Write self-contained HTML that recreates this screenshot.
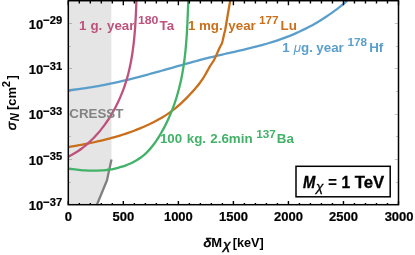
<!DOCTYPE html>
<html><head><meta charset="utf-8"><title>plot</title>
<style>html,body{margin:0;padding:0;background:#fff;}svg{display:block;}text{font-family:"Liberation Sans",sans-serif;font-weight:bold;}</style>
</head><body>
<svg width="415" height="255" viewBox="0 0 415 255" style="will-change:transform">
<rect x="0" y="0" width="415" height="255" fill="#fff"/>
<path d="M68.30,0.70 L111.3,0.70 L111.50,159.60 L108.20,174.50 L107.00,180.30 L96.90,204.70 L68.30,204.70 Z" fill="#e5e5e5"/>
<path d="M111.50,159.60 L108.20,174.50 L107.00,180.30 L96.90,204.70" fill="none" stroke="#808080" stroke-width="2.3" stroke-linejoin="round"/>
<path d="M68.78,90.30 C69.60,90.21 72.07,89.95 73.72,89.75 C75.36,89.56 77.00,89.35 78.64,89.14 C80.28,88.92 81.92,88.69 83.56,88.45 C85.20,88.21 86.84,87.96 88.47,87.70 C90.11,87.44 91.74,87.18 93.37,86.90 C95.00,86.62 96.64,86.33 98.27,86.03 C99.90,85.73 101.52,85.43 103.15,85.11 C104.78,84.79 106.41,84.47 108.03,84.14 C109.66,83.80 111.28,83.46 112.91,83.11 C114.53,82.76 116.15,82.41 117.78,82.04 C119.40,81.68 121.02,81.31 122.64,80.93 C124.26,80.55 125.88,80.16 127.50,79.77 C129.12,79.38 130.74,78.98 132.36,78.57 C133.97,78.17 135.59,77.76 137.21,77.34 C138.83,76.92 140.44,76.50 142.06,76.07 C143.68,75.65 145.29,75.21 146.91,74.78 C148.52,74.34 150.14,73.90 151.75,73.45 C153.37,73.01 154.98,72.56 156.60,72.11 C158.21,71.66 159.83,71.21 161.44,70.75 C163.06,70.30 164.67,69.84 166.29,69.39 C167.90,68.93 169.52,68.47 171.14,68.02 C172.75,67.56 174.37,67.10 175.98,66.64 C177.60,66.19 179.21,65.73 180.83,65.28 C182.45,64.82 184.06,64.37 185.68,63.92 C187.30,63.47 188.92,63.03 190.53,62.58 C192.15,62.14 193.77,61.70 195.39,61.26 C197.01,60.83 198.63,60.39 200.25,59.97 C201.87,59.54 203.49,59.12 205.12,58.70 C206.74,58.29 208.36,57.88 209.99,57.48 C211.61,57.07 213.24,56.68 214.86,56.29 C216.49,55.90 218.11,55.51 219.74,55.13 C221.37,54.75 222.99,54.38 224.62,54.00 C226.25,53.63 227.87,53.26 229.50,52.89 C231.12,52.51 232.75,52.15 234.37,51.77 C236.00,51.40 237.62,51.03 239.24,50.66 C240.86,50.28 242.48,49.90 244.10,49.52 C245.71,49.14 247.33,48.75 248.94,48.36 C250.55,47.97 252.16,47.57 253.77,47.17 C255.38,46.76 256.98,46.35 258.58,45.92 C260.19,45.50 261.78,45.07 263.38,44.62 C264.97,44.18 266.56,43.73 268.15,43.26 C269.73,42.79 271.31,42.31 272.89,41.82 C274.47,41.32 276.04,40.81 277.61,40.29 C279.17,39.76 280.74,39.22 282.29,38.66 C283.85,38.10 285.40,37.52 286.94,36.93 C288.49,36.33 290.03,35.72 291.56,35.09 C293.09,34.45 294.62,33.80 296.14,33.13 C297.65,32.46 299.17,31.78 300.67,31.07 C302.18,30.36 303.67,29.64 305.16,28.89 C306.65,28.15 308.13,27.39 309.61,26.60 C311.08,25.82 312.55,25.02 314.00,24.20 C315.46,23.38 316.91,22.54 318.35,21.68 C319.78,20.82 321.21,19.95 322.63,19.05 C324.05,18.15 325.46,17.23 326.87,16.30 C328.27,15.36 329.66,14.40 331.04,13.43 C332.42,12.45 333.79,11.46 335.15,10.44 C336.50,9.42 337.85,8.39 339.19,7.33 C340.53,6.28 341.85,5.20 343.16,4.10 C344.48,3.01 346.42,1.31 347.07,0.75" fill="none" stroke="#5a9fcb" stroke-width="2.3"/>
<path d="M230.20,0.70 L227.70,15.00 L225.20,30.00 L223.90,35.00 L222.70,40.50 L221.80,43.70 L221.80,43.70 C221.52,44.22 220.85,45.25 220.10,46.80 C219.35,48.35 218.27,50.88 217.30,53.00 C216.33,55.12 215.10,57.92 214.30,59.50 C213.50,61.08 213.13,61.52 212.50,62.50 C211.87,63.48 211.16,64.38 210.53,65.38 C209.90,66.38 209.32,67.44 208.73,68.48 C208.13,69.53 207.55,70.60 206.96,71.65 C206.38,72.70 205.79,73.75 205.19,74.78 C204.59,75.80 203.99,76.81 203.37,77.79 C202.74,78.78 202.11,79.75 201.45,80.71 C200.78,81.66 200.10,82.60 199.40,83.53 C198.70,84.46 197.97,85.38 197.22,86.28 C196.48,87.19 195.72,88.09 194.94,88.98 C194.16,89.87 193.37,90.75 192.57,91.63 C191.77,92.50 190.95,93.38 190.13,94.25 C189.31,95.12 188.48,95.98 187.64,96.84 C186.81,97.70 185.96,98.55 185.11,99.39 C184.26,100.24 183.41,101.07 182.54,101.89 C181.68,102.71 180.82,103.53 179.94,104.32 C179.06,105.12 178.18,105.91 177.28,106.67 C176.39,107.44 175.48,108.20 174.56,108.93 C173.64,109.67 172.70,110.39 171.75,111.09 C170.80,111.79 169.84,112.48 168.87,113.15 C167.90,113.82 166.91,114.48 165.92,115.12 C164.93,115.76 163.92,116.38 162.91,117.00 C161.89,117.61 160.87,118.21 159.84,118.79 C158.81,119.38 157.77,119.95 156.72,120.51 C155.68,121.07 154.62,121.62 153.56,122.16 C152.51,122.69 151.44,123.22 150.37,123.73 C149.30,124.25 148.23,124.75 147.15,125.25 C146.08,125.74 144.99,126.23 143.91,126.70 C142.82,127.18 141.73,127.64 140.64,128.10 C139.55,128.56 138.45,129.00 137.35,129.44 C136.25,129.88 135.15,130.31 134.04,130.73 C132.93,131.15 131.82,131.56 130.71,131.96 C129.59,132.36 128.48,132.75 127.36,133.14 C126.24,133.53 125.11,133.90 123.99,134.27 C122.86,134.64 121.73,135.00 120.60,135.35 C119.47,135.71 118.34,136.05 117.20,136.39 C116.07,136.73 114.93,137.06 113.79,137.38 C112.65,137.71 111.50,138.02 110.36,138.33 C109.21,138.64 108.07,138.95 106.92,139.24 C105.77,139.54 104.62,139.83 103.47,140.11 C102.32,140.40 101.16,140.67 100.01,140.94 C98.85,141.22 97.70,141.48 96.54,141.74 C95.38,142.00 94.22,142.25 93.06,142.50 C91.90,142.75 90.74,142.99 89.58,143.23 C88.42,143.47 87.25,143.70 86.09,143.93 C84.93,144.16 83.76,144.38 82.60,144.60 C81.44,144.82 80.27,145.03 79.11,145.24 C77.94,145.45 76.77,145.66 75.61,145.86 C74.44,146.06 73.28,146.26 72.11,146.45 C70.95,146.65 69.20,146.93 68.62,147.02" fill="none" stroke="#c96f1a" stroke-width="2.3" stroke-linejoin="round"/>
<path d="M188.27,0.78 C188.25,1.46 188.17,3.48 188.12,4.84 C188.07,6.20 188.02,7.56 187.97,8.92 C187.92,10.28 187.87,11.64 187.82,13.01 C187.76,14.37 187.71,15.74 187.65,17.11 C187.60,18.48 187.54,19.85 187.48,21.22 C187.41,22.59 187.35,23.97 187.28,25.34 C187.21,26.71 187.14,28.09 187.07,29.47 C186.99,30.84 186.91,32.22 186.83,33.60 C186.74,34.97 186.65,36.35 186.56,37.73 C186.46,39.11 186.36,40.48 186.26,41.86 C186.15,43.24 186.03,44.62 185.91,45.99 C185.79,47.37 185.67,48.75 185.53,50.12 C185.39,51.50 185.25,52.87 185.10,54.25 C184.95,55.62 184.79,56.99 184.62,58.36 C184.45,59.73 184.27,61.10 184.08,62.47 C183.89,63.84 183.70,65.20 183.49,66.57 C183.28,67.93 183.06,69.29 182.83,70.65 C182.60,72.01 182.36,73.37 182.10,74.72 C181.85,76.08 181.58,77.43 181.30,78.78 C181.02,80.12 180.73,81.47 180.43,82.81 C180.12,84.15 179.81,85.49 179.47,86.83 C179.14,88.16 178.80,89.49 178.44,90.82 C178.08,92.15 177.71,93.47 177.32,94.79 C176.93,96.11 176.53,97.43 176.12,98.74 C175.70,100.05 175.27,101.35 174.83,102.65 C174.38,103.95 173.92,105.25 173.45,106.54 C172.98,107.83 172.49,109.12 171.99,110.40 C171.49,111.68 170.97,112.95 170.44,114.22 C169.90,115.49 169.35,116.75 168.79,118.01 C168.23,119.27 167.65,120.52 167.06,121.76 C166.46,123.01 165.85,124.25 165.23,125.48 C164.60,126.71 163.96,127.93 163.30,129.15 C162.65,130.37 161.98,131.58 161.29,132.78 C160.60,133.98 159.89,135.18 159.17,136.36 C158.44,137.54 157.70,138.71 156.93,139.86 C156.17,141.01 155.38,142.15 154.57,143.26 C153.76,144.37 152.93,145.47 152.07,146.53 C151.22,147.59 150.33,148.64 149.42,149.64 C148.51,150.65 147.57,151.63 146.60,152.58 C145.63,153.52 144.64,154.43 143.60,155.30 C142.57,156.17 141.51,157.00 140.41,157.79 C139.32,158.58 138.19,159.33 137.04,160.03 C135.88,160.74 134.70,161.41 133.49,162.04 C132.28,162.68 131.05,163.27 129.80,163.82 C128.54,164.38 127.27,164.90 125.98,165.38 C124.69,165.86 123.37,166.31 122.05,166.72 C120.73,167.13 119.39,167.51 118.04,167.85 C116.69,168.19 115.33,168.50 113.96,168.78 C112.59,169.06 111.22,169.30 109.84,169.51 C108.46,169.73 107.07,169.91 105.69,170.06 C104.30,170.21 102.91,170.33 101.52,170.43 C100.13,170.52 98.74,170.59 97.35,170.64 C95.96,170.68 94.57,170.70 93.18,170.69 C91.80,170.69 90.41,170.66 89.03,170.62 C87.64,170.57 86.26,170.50 84.89,170.42 C83.51,170.33 82.14,170.23 80.77,170.11 C79.41,169.99 78.05,169.85 76.70,169.70 C75.35,169.55 74.00,169.38 72.67,169.21 C71.34,169.03 69.36,168.74 68.70,168.65" fill="none" stroke="#42b268" stroke-width="2.3"/>
<path d="M136.41,0.87 C136.39,1.49 136.32,3.34 136.27,4.58 C136.22,5.82 136.18,7.07 136.13,8.31 C136.07,9.56 136.02,10.81 135.97,12.06 C135.91,13.31 135.85,14.57 135.79,15.82 C135.73,17.08 135.66,18.34 135.60,19.60 C135.53,20.86 135.45,22.12 135.38,23.38 C135.30,24.64 135.22,25.91 135.13,27.17 C135.04,28.43 134.95,29.70 134.85,30.97 C134.75,32.23 134.65,33.50 134.54,34.76 C134.43,36.03 134.31,37.30 134.18,38.56 C134.06,39.83 133.93,41.10 133.79,42.36 C133.65,43.63 133.50,44.89 133.34,46.15 C133.19,47.42 133.02,48.68 132.85,49.94 C132.67,51.20 132.49,52.46 132.30,53.72 C132.10,54.98 131.90,56.24 131.69,57.49 C131.48,58.75 131.25,60.00 131.02,61.25 C130.78,62.50 130.54,63.75 130.28,64.99 C130.02,66.23 129.75,67.48 129.47,68.72 C129.19,69.95 128.89,71.19 128.59,72.42 C128.28,73.65 127.96,74.88 127.62,76.11 C127.29,77.33 126.94,78.55 126.58,79.77 C126.22,80.98 125.85,82.20 125.46,83.40 C125.07,84.61 124.67,85.81 124.25,87.01 C123.83,88.21 123.40,89.40 122.95,90.59 C122.50,91.78 122.04,92.96 121.56,94.13 C121.08,95.31 120.59,96.48 120.08,97.64 C119.57,98.81 119.05,99.97 118.51,101.12 C117.97,102.27 117.42,103.42 116.85,104.55 C116.29,105.69 115.71,106.82 115.11,107.95 C114.52,109.07 113.91,110.18 113.29,111.29 C112.66,112.40 112.03,113.50 111.38,114.59 C110.73,115.68 110.06,116.76 109.39,117.83 C108.71,118.90 108.02,119.96 107.31,121.00 C106.61,122.05 105.89,123.09 105.16,124.12 C104.43,125.14 103.69,126.16 102.93,127.16 C102.17,128.17 101.40,129.16 100.61,130.13 C99.83,131.11 99.03,132.08 98.21,133.03 C97.40,133.98 96.57,134.91 95.72,135.84 C94.87,136.76 94.01,137.67 93.13,138.56 C92.26,139.45 91.36,140.33 90.45,141.19 C89.54,142.05 88.61,142.90 87.66,143.73 C86.71,144.55 85.75,145.37 84.77,146.16 C83.78,146.95 82.78,147.73 81.76,148.49 C80.74,149.25 79.70,149.99 78.64,150.71 C77.58,151.43 76.50,152.13 75.40,152.81 C74.29,153.49 73.17,154.16 72.03,154.80 C70.88,155.44 69.11,156.35 68.53,156.66" fill="none" stroke="#be527d" stroke-width="2.3"/>
<path d="M68.30,0.70 v4.50 M68.30,204.70 v-3.70 M79.31,0.70 v2.70 M79.31,204.70 v-1.60 M90.31,0.70 v2.70 M90.31,204.70 v-1.60 M101.32,0.70 v2.70 M101.32,204.70 v-1.60 M112.33,0.70 v2.70 M112.33,204.70 v-1.60 M123.33,0.70 v4.50 M123.33,204.70 v-3.70 M134.34,0.70 v2.70 M134.34,204.70 v-1.60 M145.35,0.70 v2.70 M145.35,204.70 v-1.60 M156.35,0.70 v2.70 M156.35,204.70 v-1.60 M167.36,0.70 v2.70 M167.36,204.70 v-1.60 M178.37,0.70 v4.50 M178.37,204.70 v-3.70 M189.37,0.70 v2.70 M189.37,204.70 v-1.60 M200.38,0.70 v2.70 M200.38,204.70 v-1.60 M211.39,0.70 v2.70 M211.39,204.70 v-1.60 M222.39,0.70 v2.70 M222.39,204.70 v-1.60 M233.40,0.70 v4.50 M233.40,204.70 v-3.70 M244.41,0.70 v2.70 M244.41,204.70 v-1.60 M255.41,0.70 v2.70 M255.41,204.70 v-1.60 M266.42,0.70 v2.70 M266.42,204.70 v-1.60 M277.43,0.70 v2.70 M277.43,204.70 v-1.60 M288.43,0.70 v4.50 M288.43,204.70 v-3.70 M299.44,0.70 v2.70 M299.44,204.70 v-1.60 M310.45,0.70 v2.70 M310.45,204.70 v-1.60 M321.45,0.70 v2.70 M321.45,204.70 v-1.60 M332.46,0.70 v2.70 M332.46,204.70 v-1.60 M343.47,0.70 v4.50 M343.47,204.70 v-3.70 M354.47,0.70 v2.70 M354.47,204.70 v-1.60 M365.48,0.70 v2.70 M365.48,204.70 v-1.60 M376.49,0.70 v2.70 M376.49,204.70 v-1.60 M387.49,0.70 v2.70 M387.49,204.70 v-1.60 M398.50,0.70 v4.50 M398.50,204.70 v-3.70" stroke="#000" stroke-width="1.4" fill="none"/>
<path d="M68.30,204.50 h3.80 M398.50,204.50 h-3.80 M68.30,182.50 h2.60 M398.50,182.50 h-2.60 M68.30,159.50 h3.80 M398.50,159.50 h-3.80 M68.30,136.50 h2.60 M398.50,136.50 h-2.60 M68.30,114.50 h3.80 M398.50,114.50 h-3.80 M68.30,91.50 h2.60 M398.50,91.50 h-2.60 M68.30,68.50 h3.80 M398.50,68.50 h-3.80 M68.30,46.50 h2.60 M398.50,46.50 h-2.60 M68.30,23.50 h3.80 M398.50,23.50 h-3.80 M68.30,0.50 h2.60 M398.50,0.50 h-2.60" stroke="#000" stroke-opacity="0.22" stroke-width="1" fill="none"/>
<rect x="68.30" y="0.70" width="330.20" height="204.00" fill="none" stroke="#000" stroke-width="1.5"/>
<text transform="translate(64.69,221.30) scale(1.000,1.000)" font-size="13" fill="#000" stroke="#000" stroke-width="0.2">0</text>
<text transform="translate(112.49,221.30) scale(1.000,1.000)" font-size="13" fill="#000" stroke="#000" stroke-width="0.2">500</text>
<text transform="translate(163.91,221.30) scale(1.000,1.000)" font-size="13" fill="#000" stroke="#000" stroke-width="0.2">1000</text>
<text transform="translate(218.94,221.30) scale(1.000,1.000)" font-size="13" fill="#000" stroke="#000" stroke-width="0.2">1500</text>
<text transform="translate(273.98,221.30) scale(1.000,1.000)" font-size="13" fill="#000" stroke="#000" stroke-width="0.2">2000</text>
<text transform="translate(329.01,221.30) scale(1.000,1.000)" font-size="13" fill="#000" stroke="#000" stroke-width="0.2">2500</text>
<text transform="translate(384.64,221.30) scale(1.000,1.000)" font-size="13" fill="#000" stroke="#000" stroke-width="0.2">3000</text>
<text transform="translate(28.80,28.57) scale(1.000,1.050)" font-size="13" fill="#000" stroke="#000" stroke-width="0.2">10</text>
<text transform="translate(43.20,24.27) scale(1.000,1.040)" font-size="11.2" fill="#000" stroke="#000" stroke-width="0.2">−29</text>
<text transform="translate(28.80,73.90) scale(1.000,1.050)" font-size="13" fill="#000" stroke="#000" stroke-width="0.2">10</text>
<text transform="translate(43.20,69.60) scale(1.000,1.040)" font-size="11.2" fill="#000" stroke="#000" stroke-width="0.2">−31</text>
<text transform="translate(28.80,119.23) scale(1.000,1.050)" font-size="13" fill="#000" stroke="#000" stroke-width="0.2">10</text>
<text transform="translate(43.20,114.93) scale(1.000,1.040)" font-size="11.2" fill="#000" stroke="#000" stroke-width="0.2">−33</text>
<text transform="translate(28.80,164.57) scale(1.000,1.050)" font-size="13" fill="#000" stroke="#000" stroke-width="0.2">10</text>
<text transform="translate(43.20,160.27) scale(1.000,1.040)" font-size="11.2" fill="#000" stroke="#000" stroke-width="0.2">−35</text>
<text transform="translate(28.80,209.90) scale(1.000,1.050)" font-size="13" fill="#000" stroke="#000" stroke-width="0.2">10</text>
<text transform="translate(43.20,205.60) scale(1.000,1.040)" font-size="11.2" fill="#000" stroke="#000" stroke-width="0.2">−37</text>
<text transform="translate(79.00,29.50) scale(1.000,1.000)" font-size="13.35" fill="#be527d" stroke="#be527d" stroke-width="0.0">1</text>
<text transform="translate(90.40,29.50) scale(1.000,1.000)" font-size="13.35" fill="#be527d" stroke="#be527d" stroke-width="0.0">g.</text>
<text transform="translate(107.00,29.50) scale(1.000,1.000)" font-size="13.35" fill="#be527d" stroke="#be527d" stroke-width="0.0">year</text>
<text transform="translate(137.90,23.60) scale(1.090,1.000)" font-size="11.3" fill="#be527d" stroke="#be527d" stroke-width="0.0">180</text>
<text transform="translate(159.60,29.50) scale(1.000,1.000)" font-size="13.35" fill="#be527d" stroke="#be527d" stroke-width="0.0">Ta</text>
<text transform="translate(187.90,29.70) scale(1.000,1.000)" font-size="13.35" fill="#c96f1a" stroke="#c96f1a" stroke-width="0.0">1</text>
<text transform="translate(198.90,29.70) scale(1.000,1.000)" font-size="13.35" fill="#c96f1a" stroke="#c96f1a" stroke-width="0.0">mg.</text>
<text transform="translate(228.30,29.70) scale(1.000,1.000)" font-size="13.35" fill="#c96f1a" stroke="#c96f1a" stroke-width="0.0">year</text>
<text transform="translate(259.00,24.20) scale(1.040,1.000)" font-size="11.3" fill="#c96f1a" stroke="#c96f1a" stroke-width="0.0">177</text>
<text transform="translate(280.60,29.70) scale(1.000,1.000)" font-size="13.35" fill="#c96f1a" stroke="#c96f1a" stroke-width="0.0">Lu</text>
<text transform="translate(282.30,52.40) scale(1.000,1.000)" font-size="13.35" fill="#5a9fcb" stroke="#5a9fcb" stroke-width="0.0">1</text>
<text transform="translate(293.80,52.40) scale(1.000,1.000)" font-size="13.35" fill="#5a9fcb" stroke="#5a9fcb" stroke-width="0.0" style="font-weight:normal;font-style:italic">μ</text>
<text transform="translate(301.00,52.40) scale(1.000,1.000)" font-size="13.35" fill="#5a9fcb" stroke="#5a9fcb" stroke-width="0.0">g.</text>
<text transform="translate(316.30,52.40) scale(1.000,1.000)" font-size="13.35" fill="#5a9fcb" stroke="#5a9fcb" stroke-width="0.0">year</text>
<text transform="translate(347.50,46.40) scale(1.040,1.000)" font-size="11.3" fill="#5a9fcb" stroke="#5a9fcb" stroke-width="0.0">178</text>
<text transform="translate(369.20,52.40) scale(1.000,1.000)" font-size="13.35" fill="#5a9fcb" stroke="#5a9fcb" stroke-width="0.0">Hf</text>
<text transform="translate(159.90,143.20) scale(1.000,1.000)" font-size="13.35" fill="#42b268" stroke="#42b268" stroke-width="0.0">100</text>
<text transform="translate(186.80,143.20) scale(1.000,1.000)" font-size="13.35" fill="#42b268" stroke="#42b268" stroke-width="0.0">kg.</text>
<text transform="translate(210.30,143.20) scale(1.000,1.000)" font-size="13.35" fill="#42b268" stroke="#42b268" stroke-width="0.0">2.6min</text>
<text transform="translate(256.20,137.60) scale(1.040,1.000)" font-size="11.3" fill="#42b268" stroke="#42b268" stroke-width="0.0">137</text>
<text transform="translate(276.80,143.20) scale(1.000,1.000)" font-size="13.35" fill="#42b268" stroke="#42b268" stroke-width="0.0">Ba</text>
<text transform="translate(69.30,117.80) scale(1.000,1.000)" font-size="13.35" fill="#838383" stroke="#838383" stroke-width="0.0">CRESST</text>
<rect x="296.0" y="166.3" width="94.2" height="30.5" fill="#fff" stroke="#000" stroke-width="1.5"/>
<text transform="translate(302.90,187.50) scale(0.955,1.070)" font-size="15.5" fill="#000" stroke="#000" stroke-width="0.35" style="font-style:italic">M</text>
<text transform="translate(316.00,190.80) scale(1.050,1.000)" font-size="13" fill="#000" stroke="#000" stroke-width="0.3" style="font-weight:normal;font-style:italic">χ</text>
<text transform="translate(328.00,187.50) scale(1.000,1.070)" font-size="15.5" fill="#000" stroke="#000" stroke-width="0.0">=</text>
<text transform="translate(341.60,187.50) scale(1.000,1.070)" font-size="15.5" fill="#000" stroke="#000" stroke-width="0.3">1</text>
<text transform="translate(354.70,187.50) scale(1.080,1.070)" font-size="15.5" fill="#000" stroke="#000" stroke-width="0.3">TeV</text>
<text transform="translate(203.60,246.60) scale(1.050,1.000)" font-size="13" fill="#000" stroke="#000" stroke-width="0.7" style="font-weight:normal;font-style:italic">δ</text>
<text transform="translate(211.20,246.60) scale(1.000,1.030)" font-size="13" fill="#000" stroke="#000" stroke-width="0.0">M</text>
<text transform="translate(223.00,249.40) scale(1.150,1.000)" font-size="12" fill="#000" stroke="#000" stroke-width="0.45" style="font-weight:normal;font-style:italic">χ</text>
<text transform="translate(232.80,246.60) scale(0.975,1.030)" font-size="13" fill="#000" stroke="#000" stroke-width="0.0">[keV]</text>
<g transform="translate(16.4,130) rotate(-90)">
<text transform="translate(-0.20,0.00) scale(1.050,1.000)" font-size="13" fill="#000" stroke="#000" stroke-width="0.6" style="font-weight:normal;font-style:italic">σ</text>
<text transform="translate(8.70,2.70) scale(0.950,1.030)" font-size="11.8" fill="#000" stroke="#000" stroke-width="0.0" style="font-style:italic">N</text>
<text transform="translate(19.90,0.00) scale(1.000,1.000)" font-size="13" fill="#000" stroke="#000" stroke-width="0.0">[cm</text>
<text transform="translate(42.80,-6.20) scale(1.000,1.000)" font-size="11.2" fill="#000" stroke="#000" stroke-width="0.0">2</text>
<text transform="translate(50.50,0.00) scale(1.000,1.000)" font-size="13" fill="#000" stroke="#000" stroke-width="0.0">]</text>
</g>
</svg></body></html>
